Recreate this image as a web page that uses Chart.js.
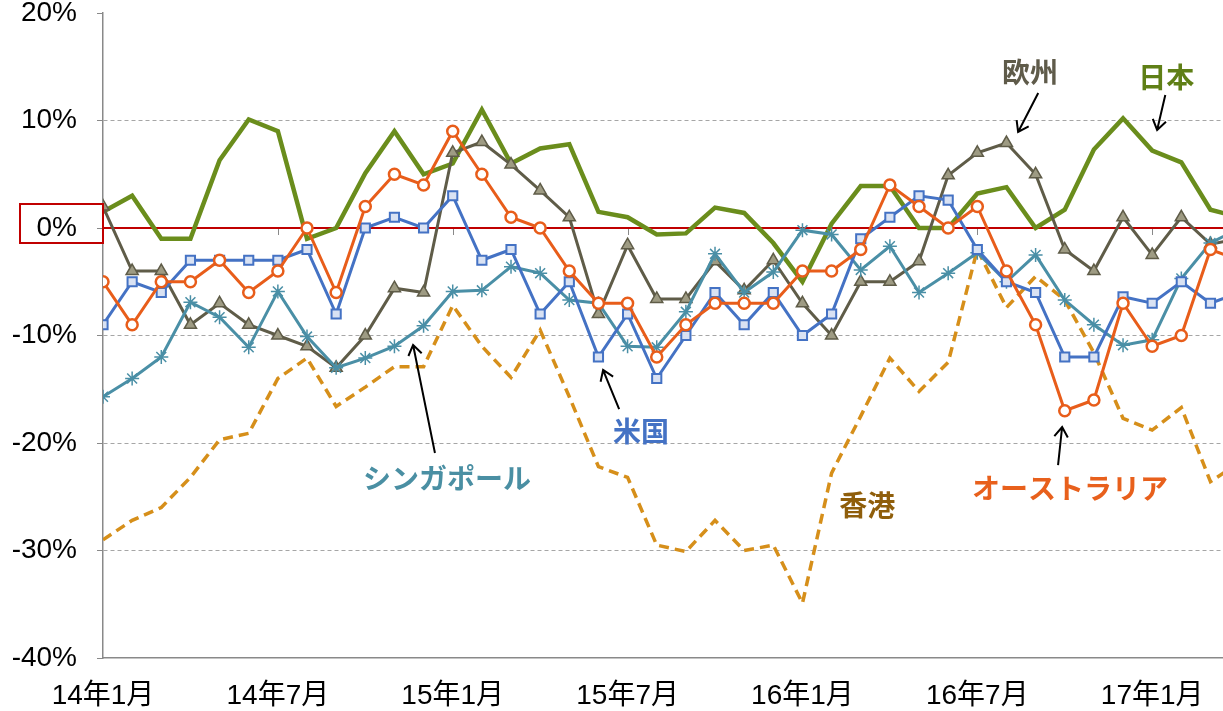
<!DOCTYPE html>
<html lang="ja">
<head>
<meta charset="utf-8">
<title>前年同月比</title>
<script src="https://cdn.jsdelivr.net/npm/chart.js@4.4.1/dist/chart.umd.min.js"></script>
<style>
  html, body { margin: 0; padding: 0; background: #fff; overflow: hidden; }
  #wrap { width: 1223px; height: 711px; position: relative; }
</style>
</head>
<body>
<div id="wrap"><canvas id="chart"></canvas></div>
<script>
// ── Data ────────────────────────────────────────────────────
const months = [
    '14年1月', '14年2月', '14年3月', '14年4月', '14年5月', '14年6月',
    '14年7月', '14年8月', '14年9月', '14年10月', '14年11月', '14年12月',
    '15年1月', '15年2月', '15年3月', '15年4月', '15年5月', '15年6月',
    '15年7月', '15年8月', '15年9月', '15年10月', '15年11月', '15年12月',
    '16年1月', '16年2月', '16年3月', '16年4月', '16年5月', '16年6月',
    '16年7月', '16年8月', '16年9月', '16年10月', '16年11月', '16年12月',
    '17年1月', '17年2月', '17年3月', '17年4月'
];
const tickIndex = [0, 6, 12, 18, 24, 30, 36];
const yTicks = [20, 10, 0, -10, -20, -30, -40];

const japan = [1.5, 3, -1, -1, 6.3, 10.1, 9, -1, 0, 5.1, 9, 5, 6, 11, 6, 7.4, 7.8, 1.5, 1.0, -0.6,
    -0.5, 1.9, 1.4, -1.4, -5, 0.4, 3.9, 3.9, 0, 0, 3.2, 3.8, 0, 1.7, 7.3, 10.2, 7.2, 6.1, 1.7, 1.0];
const europe = [2, -4, -4, -9, -7, -9, -10, -11, -13, -10, -5.6, -6, 7, 8, 5.9, 3.5, 1, -8, -1.6, -6.6,
    -6.6, -3.1, -5.8, -3, -7, -10, -5, -5, -3.1, 4.9, 7, 7.9, 5, -2, -4, 1, -2.5, 1, -1.5, -1];
const usa = [-9, -5, -6, -3, -3, -3, -3, -2, -8, 0, 1, 0, 3, -3, -2, -8, -5, -12, -8, -14,
    -10, -6, -9, -6, -10, -8, -1, 1, 3, 2.6, -2, -5, -6, -12, -12, -6.4, -7, -5, -7, -6];
const australia = [-5, -9, -5, -5, -3, -6, -4, 0, -6, 2, 5, 4, 9, 5, 1, 0, -4, -7, -7, -12,
    -9, -7, -7, -7, -4, -4, -2, 4, 2, 0, 2, -4, -9, -17, -16, -7, -11, -10, -2, -3];
const singapore = [-15.7, -14, -12, -6.9, -8.3, -11.1, -5.9, -10.1, -13, -12.1, -11, -9.1, -5.9, -5.8, -3.6, -4.2, -6.7, -7, -11, -11.1,
    -7.8, -2.4, -6, -4.1, -0.2, -0.6, -3.9, -1.7, -6, -4.2, -2.3, -5, -2.5, -6.7, -9, -10.9, -10.4, -4.7, -1.4, 0];
const hongkong = [-29, -27.2, -26, -23.2, -19.7, -19.1, -14, -12.1, -16.6, -14.8, -12.9, -12.9, -7.2, -11, -13.9, -9.5, -15.7, -22.2, -23.2, -29.5,
    -30.1, -27.2, -30, -29.5, -34.9, -22.8, -17.5, -12.1, -15.2, -12.5, -2, -7.4, -4.5, -6.7, -11.6, -17.7, -18.8, -16.7, -23.6, -21.8];

// the picture is cropped a little past 17年3月
const xMax = 38.43;

// labels + arrows, in data units (month index, %)
const notes = [
    { text: '欧州', color: '#5F5B4A', at: [31.81, 14.51], arrow: [[32.09, 12.56], [31.40, 8.93]] },
    { text: '日本', color: '#5F7F16', at: [36.48, 14.05], arrow: [[36.45, 12.37], [36.17, 9.12]] },
    { text: '米国', color: '#4472C4', at: [18.46, -18.88], arrow: [[17.71, -16.84], [17.16, -13.21]] },
    { text: 'シンガポール', color: '#4A8FA3', at: [11.80, -23.26], arrow: [[11.39, -20.93], [10.64, -10.88]] },
    { text: '香港', color: '#8F5E0B', at: [26.22, -25.77], arrow: null },
    { text: 'オーストラリア', color: '#E8601C', at: [33.18, -24.19], arrow: [[32.77, -22.05], [32.91, -18.51]] }
];

const AXIS = '#898989';
const FONT = "'Liberation Sans', Arial, 'Noto Sans CJK JP', sans-serif";

function series(values) {
    return values.map((v, i) => ({ x: i, y: v }));
}

// ── Decorations: zero line, axis ticks on it, notes ─────────
const decor = {
    id: 'decor',
    beforeDatasetsDraw(chart) {
        const { ctx, chartArea: a, scales: { x, y } } = chart;
        const y0 = y.getPixelForValue(0);
        ctx.save();
        ctx.strokeStyle = AXIS;
        ctx.lineWidth = 1;
        tickIndex.slice(1).forEach(i => {
            const px = Math.round(x.getPixelForValue(i)) + 0.5;
            ctx.beginPath();
            ctx.moveTo(px, y0);
            ctx.lineTo(px, y0 + 7);
            ctx.stroke();
        });
        ctx.strokeStyle = '#C00000';
        ctx.lineWidth = 2;
        ctx.beginPath();
        ctx.moveTo(a.left, y0);
        ctx.lineTo(a.right, y0);
        ctx.stroke();
        ctx.restore();
    },
    afterDraw(chart) {
        const { ctx, chartArea: a, scales: { x, y } } = chart;
        const y0 = y.getPixelForValue(0);
        ctx.save();

        // box round the 0% label
        ctx.strokeStyle = '#C00000';
        ctx.lineWidth = 2;
        ctx.strokeRect(20, y0 - 24, a.left - 20, 39);

        notes.forEach(n => {
            ctx.font = "bold 28px 'Noto Sans CJK JP', sans-serif";
            ctx.fillStyle = n.color;
            ctx.textAlign = 'center';
            ctx.textBaseline = 'middle';
            ctx.fillText(n.text, x.getPixelForValue(n.at[0]), y.getPixelForValue(n.at[1]));
            if (!n.arrow) return;
            const x1 = x.getPixelForValue(n.arrow[0][0]), y1 = y.getPixelForValue(n.arrow[0][1]);
            const x2 = x.getPixelForValue(n.arrow[1][0]), y2 = y.getPixelForValue(n.arrow[1][1]);
            const ang = Math.atan2(y2 - y1, x2 - x1);
            ctx.strokeStyle = '#000';
            ctx.lineWidth = 2;
            ctx.beginPath();
            ctx.moveTo(x1, y1);
            ctx.lineTo(x2, y2);
            ctx.moveTo(x2 - 12 * Math.cos(ang - 0.6), y2 - 12 * Math.sin(ang - 0.6));
            ctx.lineTo(x2, y2);
            ctx.lineTo(x2 - 12 * Math.cos(ang + 0.6), y2 - 12 * Math.sin(ang + 0.6));
            ctx.stroke();
        });
        ctx.restore();
    }
};

new Chart(document.getElementById('chart'), {
    type: 'line',
    data: {
        datasets: [
            {
                label: 'オーストラリア', data: series(australia), order: 0,
                borderColor: '#E85D1A', borderWidth: 3,
                pointStyle: 'circle', pointRadius: 5.5,
                pointBackgroundColor: '#FFFFFF', pointBorderColor: '#E85D1A', pointBorderWidth: 2.5,
            },
            {
                label: '米国', data: series(usa), order: 1,
                borderColor: '#4472C4', borderWidth: 3,
                pointStyle: 'rect', pointRadius: 6.5,
                pointBackgroundColor: '#D9E2F3', pointBorderColor: '#4472C4', pointBorderWidth: 2,
            },
            {
                label: 'シンガポール', data: series(singapore), order: 2,
                borderColor: '#4A8FA6', borderWidth: 3,
                pointStyle: 'star', pointRadius: 7,
                pointBackgroundColor: '#4A8FA6', pointBorderColor: '#4A8FA6', pointBorderWidth: 1.5,
            },
            {
                label: '欧州', data: series(europe), order: 3,
                borderColor: '#5F5C48', borderWidth: 3,
                pointStyle: 'triangle', pointRadius: 7,
                pointBackgroundColor: '#9E9B83', pointBorderColor: '#5F5C48', pointBorderWidth: 1.5,
            },
            {
                label: '香港', data: series(hongkong), order: 4,
                borderColor: '#D68F1A', borderWidth: 3.5, borderDash: [10, 6],
                pointRadius: 0,
            },
            {
                label: '日本', data: series(japan), order: 5,
                borderColor: '#6A8D1C', borderWidth: 4.5,
                pointRadius: 0,
            },
        ],
    },
    options: {
        responsive: true,
        maintainAspectRatio: false,
        animation: false,
        layout: { autoPadding: false, padding: { top: 13, left: 0, right: 0, bottom: 0 } },
        elements: { line: { tension: 0, fill: false } },
        plugins: {
            legend: { display: false },
            tooltip: { enabled: false },
        },
        scales: {
            x: {
                type: 'linear',
                min: 0,
                max: xMax,
                afterBuildTicks: s => { s.ticks = tickIndex.map(v => ({ value: v })); },
                afterFit: s => { s.height = 53; s.paddingLeft = 0; s.paddingRight = 0; },
                ticks: {
                    callback: v => months[v],
                    color: '#000',
                    font: { family: FONT, size: 28 },
                    padding: 21,
                    maxRotation: 0,
                    autoSkip: false,
                },
                grid: { display: false, drawTicks: false },
                border: { display: true, color: AXIS, width: 1.5 },
            },
            y: {
                min: -40,
                max: 20,
                afterBuildTicks: s => { s.ticks = yTicks.map(v => ({ value: v })); },
                afterFit: s => { s.width = 103; s.paddingTop = 0; s.paddingBottom = 0; },
                ticks: {
                    callback: v => v + '%',
                    color: '#000',
                    font: { family: FONT, size: 28 },
                    padding: 20,
                },
                grid: {
                    color: c => (c.tick && [10, -10, -20, -30].includes(c.tick.value)) ? '#A6A6A6' : 'rgba(0,0,0,0)',
                    lineWidth: 1,
                    tickColor: AXIS,
                    tickLength: 6,
                    tickBorderDash: [],
                },
                border: { display: true, color: AXIS, width: 1.5, dash: [4, 3] },
            },
        },
    },
    plugins: [decor],
});
</script>
</body>
</html>
